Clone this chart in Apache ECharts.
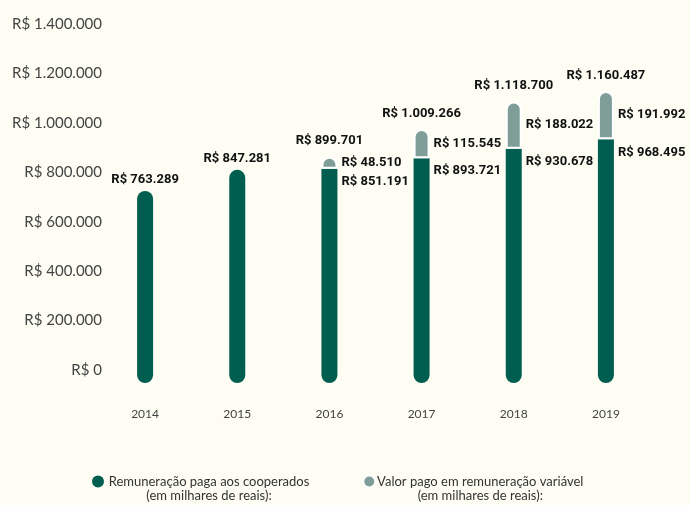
<!DOCTYPE html>
<html>
<head>
<meta charset="utf-8">
<script src="https://cdn.jsdelivr.net/npm/echarts@6/dist/echarts.min.js"></script>
<style>
  html, body { margin: 0; padding: 0; background: #fdfdf3; }
  #chart { width: 690px; height: 505px; }
</style>
</head>
<body>
<div id="chart"></div>
<script>
// dados (em milhares de reais)
const anos = ["2014", "2015", "2016", "2017", "2018", "2019"];
const remuneracao = [763289, 847281, 851191, 893721, 930678, 968495];
const variavel = [null, null, 48510, 115545, 188022, 191992];
const ticksY = [0, 200000, 400000, 600000, 800000, 1000000, 1200000, 1400000];

const nomeRem = "Remuneração paga aos cooperados";
const nomeVar = "Valor pago em remuneração variável";

const verde = "#005e50";
const cinza = "#7f9e97";

// formata 1234567 -> "R$ 1.234.567"
const reais = (v) => "R$ " + String(v).replace(/\B(?=(\d{3})+(?!\d))/g, ".");

const totais = remuneracao.map((v, i) => v + (variavel[i] || 0));

const myChart = echarts.init(document.getElementById("chart"));

const labelStyle = {
  color: "#111",
  opacity: 1,
  fontFamily: "Roboto",
  fontWeight: "bold",
  fontSize: 13,
};

const option = {
  backgroundColor: "#fdfdf3",
  animation: false,
  legend: {
    bottom: -2,
    left: 87,
    itemWidth: 12,
    itemHeight: 12,
    itemGap: 53,
    icon: "circle",
    data: [
      { name: nomeRem, itemStyle: { color: verde } },
      { name: nomeVar, itemStyle: { color: cinza } },
    ],
    formatter: (name) => "{a|" + name + "}\n{a|(em milhares de reais):}",
    textStyle: {
      padding: [14, 0, 0, 0],
      rich: {
        a: { width: 200, align: "center", fontFamily: "Lato", fontSize: 13, lineHeight: 14, color: "#333" },
      },
    },
  },
  grid: [
    // eixo de rótulos
    { left: 110, right: 38, top: 24, bottom: 135 },
    // barras
    { left: 99, right: 38, top: 24, bottom: 115 },
  ],
  xAxis: [
    { gridIndex: 0, type: "category", data: anos, show: false },
    {
      gridIndex: 1,
      type: "category",
      data: anos,
      axisLine: { show: false },
      axisTick: { show: false },
      axisLabel: { margin: 18, color: "#444", fontFamily: "Lato", fontSize: 12 },
    },
  ],
  yAxis: [
    {
      gridIndex: 0,
      type: "value",
      min: 0,
      max: 1400000,
      interval: 200000,
      splitLine: { show: false },
      axisLine: { show: false },
      axisTick: { show: false },
      axisLabel: {
        margin: 8,
        color: "#444",
        fontFamily: "Lato",
        fontSize: 15,
        formatter: (v) => (ticksY.includes(v) ? reais(v) : ""),
      },
    },
    {
      gridIndex: 1,
      type: "value",
      min: -27822,
      max: 1426868,
      show: false,
      splitLine: { show: false },
    },
  ],
  series: [
    {
      name: nomeRem,
      type: "bar",
      stack: "total",
      xAxisIndex: 1,
      yAxisIndex: 1,
      barWidth: 16,
      color: verde,
      data: remuneracao.map((v, i) => {
        const temVar = variavel[i] != null;
        return {
          value: v,
          itemStyle: { borderRadius: temVar ? [0, 0, 8, 8] : 8 },
          label: {
            show: temVar,
            position: ["100%", 13],
            offset: [4, 0],
            align: "left",
            verticalAlign: "middle",
            formatter: reais(v),
            ...labelStyle,
          },
        };
      }),
    },
    {
      name: nomeVar,
      type: "bar",
      stack: "total",
      xAxisIndex: 1,
      yAxisIndex: 1,
      barWidth: 16,
      color: cinza,
      itemStyle: { borderRadius: [8, 8, 0, 0], borderColor: "#ffffff", borderWidth: 2 },
      label: {
        show: true,
        position: "right",
        distance: 4,
        formatter: (p) => reais(p.value),
        ...labelStyle,
      },
      data: variavel,
    },
    {
      // totais acima das barras
      name: "total",
      type: "scatter",
      xAxisIndex: 1,
      yAxisIndex: 1,
      symbolSize: 0,
      silent: true,
      itemStyle: { opacity: 1 },
      data: totais.map((v, i) => ({
        value: v,
        label: {
          show: true,
          position: "top",
          distance: variavel[i] != null ? 9 : 5,
          formatter: reais(v),
          ...labelStyle,
        },
      })),
    },
  ],
};
myChart.setOption(option);
</script>
</body>
</html>
